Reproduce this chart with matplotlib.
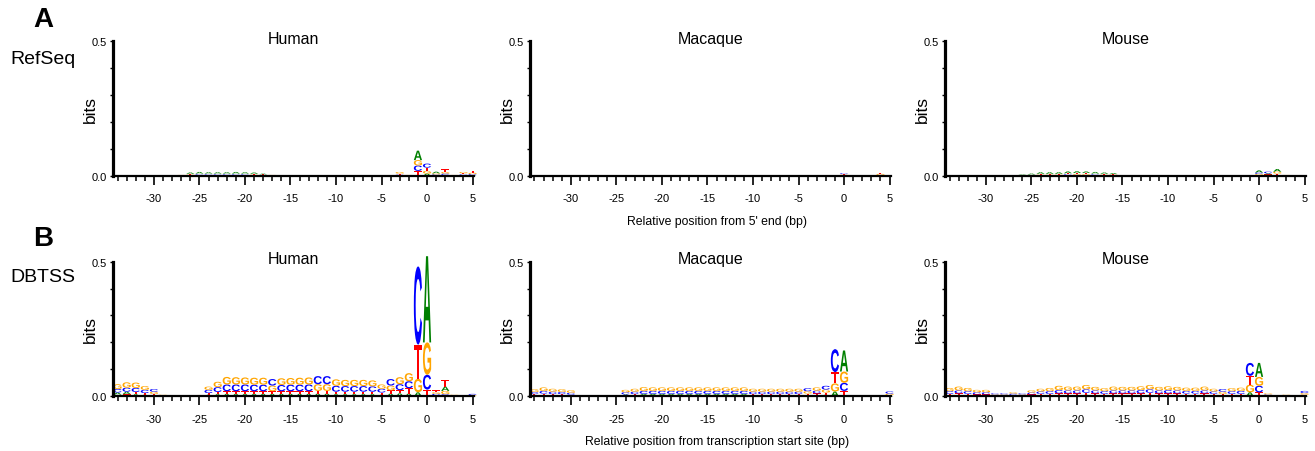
import matplotlib
matplotlib.use('Agg')
import matplotlib.pyplot as plt
from matplotlib.textpath import TextPath
from matplotlib.patches import PathPatch
from matplotlib.font_manager import FontProperties
from matplotlib.transforms import Affine2D

plt.rcParams['font.family'] = ['Liberation Sans', 'DejaVu Sans']
plt.rcParams['axes.unicode_minus'] = False

positions = list(range(-34, 6))
letter_colors = {'A': '#008000', 'C': '#0000ff', 'G': '#ffa500', 'T': '#ff0000'}
species = ['Human', 'Macaque', 'Mouse']
rows = ['RefSeq', 'DBTSS']
panel_tags = ['A', 'B']
xlabels = ["Relative position from 5' end (bp)",
           "Relative position from transcription start site (bp)"]

# information content (bits) per letter, positions -34 .. 5
# ---- RefSeq ----
human_ref_A = [0, 0, 0, 0, 0, 0, 0, .001, .005, .006, .005, .005, .005, .006, .005, .005, .003, .001, 0, 0,
               0, 0, 0, 0, 0, 0, 0, 0, 0, 0, 0, .001, .001, .035, .008, .006, .003, .001, .002, .002]
human_ref_C = [0, 0, 0, 0, 0, 0, 0, .001, .002, .003, .003, .003, .003, .003, .003, .002, .002, .001, 0, 0,
               0, 0, 0, 0, 0, 0, 0, 0, 0, 0, 0, .003, .001, .020, .015, .003, .005, .001, .003, .004]
human_ref_G = [0, 0, 0, 0, 0, 0, 0, .001, .002, .002, .002, .002, .002, .002, .002, .002, .001, .001, 0, 0,
               0, 0, 0, 0, 0, 0, 0, 0, 0, 0, 0, .006, .001, .020, .010, .004, .006, .001, .005, .005]
human_ref_T = [0, 0, 0, 0, 0, 0, 0, .001, .003, .003, .003, .003, .003, .003, .003, .003, .002, .001, 0, 0,
               0, 0, 0, 0, .002, 0, 0, 0, 0, 0, 0, .004, .001, .018, .012, .002, .010, .001, .004, .006]

macaque_ref_A = [0, 0, 0, 0, 0, 0, 0, 0, 0, 0, 0, 0, 0, 0, 0, 0, 0, 0, 0, 0,
                 0, 0, 0, 0, 0, 0, 0, 0, 0, 0, 0, 0, 0, 0, .002, 0, 0, 0, .001, 0]
macaque_ref_C = [0, 0, 0, 0, 0, 0, 0, 0, 0, 0, 0, 0, 0, 0, 0, 0, 0, 0, 0, 0,
                 0, 0, 0, 0, 0, 0, 0, 0, 0, 0, 0, 0, 0, 0, .003, 0, 0, 0, .002, 0]
macaque_ref_G = [0, 0, 0, 0, 0, 0, 0, 0, 0, 0, 0, 0, 0, 0, 0, 0, 0, 0, 0, 0,
                 0, 0, 0, 0, 0, 0, 0, 0, 0, 0, 0, 0, 0, 0, .002, 0, 0, 0, .004, 0]
macaque_ref_T = [0, 0, 0, 0, 0, 0, 0, 0, 0, 0, 0, 0, 0, 0, 0, 0, 0, 0, 0, 0,
                 0, 0, 0, 0, 0, 0, 0, 0, 0, 0, 0, 0, 0, 0, .002, 0, 0, 0, .004, 0]

mouse_ref_A = [0, 0, 0, 0, 0, 0, 0, 0, .002, .004, .006, .006, .006, .007, .007, .006, .006, .005, .004, .001,
               0, 0, 0, 0, 0, 0, 0, 0, 0, 0, 0, 0, 0, 0, .008, .004, .010, .001, 0, 0]
mouse_ref_C = [0, 0, 0, 0, 0, 0, 0, 0, .001, .001, .002, .002, .002, .003, .003, .003, .003, .002, .002, .0005,
               0, 0, 0, 0, 0, 0, 0, 0, 0, 0, 0, 0, 0, 0, .005, .006, .003, .001, 0, 0]
mouse_ref_G = [0, 0, 0, 0, 0, 0, 0, 0, .001, .001, .002, .002, .002, .002, .003, .003, .002, .002, .002, .0005,
               0, 0, 0, 0, 0, 0, 0, 0, 0, 0, 0, 0, 0, 0, .004, .002, .007, .001, 0, 0]
mouse_ref_T = [0, 0, 0, 0, 0, 0, 0, 0, .001, .002, .003, .003, .003, .004, .004, .004, .003, .003, .002, .001,
               0, 0, 0, 0, 0, 0, 0, 0, 0, 0, 0, 0, 0, 0, .003, .003, .005, .001, 0, 0]

# ---- DBTSS ----
human_tss_A = [.008, .009, .008, .006, .004, .001, .001, .0005, .001, .001, .006, .008, .009, .009, .009, .009, .009, .009, .009, .009,
               .009, .009, .010, .010, .008, .008, .008, .008, .008, .006, .010, .011, .010, .015, .320, .004, .016, .001, .0005, .001]
human_tss_C = [.013, .015, .015, .012, .010, .002, .001, .0005, .001, .001, .012, .018, .025, .025, .025, .024, .024, .024, .023, .024,
               .024, .025, .030, .030, .022, .021, .021, .021, .020, .014, .024, .022, .026, .290, .055, .005, .008, .002, .001, .004]
human_tss_G = [.018, .020, .020, .014, .008, .002, .001, .0005, .001, .002, .012, .020, .028, .027, .026, .026, .026, .021, .025, .025,
               .026, .026, .025, .025, .024, .023, .023, .023, .022, .016, .018, .026, .030, .050, .120, .006, .012, .002, .001, .003]
human_tss_T = [.006, .008, .008, .006, .005, .001, .001, .0005, .001, .001, .006, .008, .010, .010, .010, .010, .010, .010, .010, .010,
               .010, .010, .010, .010, .009, .009, .009, .009, .009, .008, .012, .012, .020, .127, .025, .007, .024, .001, .0005, .001]

macaque_tss_A = [.004, .005, .004, .004, .003, .0005, .0005, .0005, .0005, .0005, .004, .004, .005, .005, .005, .005, .005, .005, .005, .005,
                 .005, .005, .005, .005, .004, .004, .004, .004, .004, .004, .005, .005, .006, .018, .078, .001, .0005, .0005, .001, .002]
macaque_tss_C = [.008, .010, .009, .008, .007, .0005, .0005, .0005, .0005, .0005, .008, .009, .011, .011, .011, .011, .011, .011, .011, .011,
                 .011, .011, .011, .011, .009, .009, .009, .009, .009, .009, .011, .010, .014, .085, .030, .001, .0005, .0005, .001, .008]
macaque_tss_G = [.010, .013, .011, .010, .009, .0005, .0005, .0005, .0005, .0005, .009, .011, .014, .013, .013, .013, .013, .013, .013, .013,
                 .013, .013, .013, .013, .011, .011, .011, .011, .011, .011, .009, .012, .011, .030, .042, .001, .0005, .0005, .001, .006]
macaque_tss_T = [.004, .005, .004, .004, .003, .0005, .0005, .0005, .0005, .0005, .003, .004, .004, .004, .004, .004, .004, .004, .004, .004,
                 .004, .004, .004, .004, .004, .004, .004, .004, .004, .004, .005, .006, .008, .042, .020, .001, .0005, .0005, .001, .002]

mouse_tss_A = [.004, .005, .004, .003, .003, .002, .002, .002, .002, .003, .004, .004, .005, .005, .005, .006, .005, .004, .005, .005,
               .005, .005, .006, .005, .005, .005, .005, .005, .005, .004, .004, .004, .004, .015, .052, .002, .0005, .001, .0005, .002]
mouse_tss_C = [.010, .011, .010, .008, .008, .004, .004, .005, .004, .007, .009, .010, .012, .011, .011, .013, .011, .010, .011, .011,
               .011, .012, .013, .011, .012, .011, .010, .010, .011, .009, .010, .010, .011, .048, .024, .003, .0005, .002, .0005, .008]
mouse_tss_G = [.012, .014, .012, .009, .009, .003, .003, .005, .003, .008, .010, .012, .016, .014, .014, .016, .013, .011, .014, .013,
               .013, .014, .016, .013, .014, .013, .012, .012, .014, .010, .008, .011, .012, .028, .033, .004, .0005, .002, .0005, .006]
mouse_tss_T = [.005, .006, .005, .004, .004, .002, .002, .003, .002, .004, .005, .005, .006, .006, .006, .007, .006, .005, .006, .006,
               .006, .006, .007, .006, .006, .006, .005, .005, .006, .005, .005, .005, .005, .033, .015, .002, .0005, .001, .0005, .004]

logos = [
    [(human_ref_A, human_ref_C, human_ref_G, human_ref_T),
     (macaque_ref_A, macaque_ref_C, macaque_ref_G, macaque_ref_T),
     (mouse_ref_A, mouse_ref_C, mouse_ref_G, mouse_ref_T)],
    [(human_tss_A, human_tss_C, human_tss_G, human_tss_T),
     (macaque_tss_A, macaque_tss_C, macaque_tss_G, macaque_tss_T),
     (mouse_tss_A, mouse_tss_C, mouse_tss_G, mouse_tss_T)],
]

letter_font = FontProperties(family='Liberation Sans', weight='bold')


def draw_letter(ax, ch, x, y, w, h):
    tp = TextPath((0, 0), ch, size=1, prop=letter_font)
    bb = tp.get_extents()
    tr = Affine2D().translate(-bb.x0, -bb.y0).scale(w / bb.width, h / bb.height).translate(x - w / 2, y)
    ax.add_patch(PathPatch(tr.transform_path(tp), facecolor=letter_colors[ch],
                           edgecolor='none', clip_on=False))


def draw_logo(ax, cols):
    for i, p in enumerate(positions):
        stack = sorted(zip('ACGT', [c[i] for c in cols]), key=lambda t: t[1])
        y = 0.0
        for ch, h in stack:
            if h > 0:
                draw_letter(ax, ch, p, y, 0.9, h)
                y += h


fig = plt.figure(figsize=(13.15, 4.52), dpi=100)
lefts = [0.0859, 0.403, 0.7186]
bottoms = [0.609, 0.121]
for r in range(2):
    for s in range(3):
        ax = fig.add_axes([lefts[s], bottoms[r], 0.2745, 0.298])
        draw_logo(ax, logos[r][s])
        ax.set_xlim(-34.5, 5.15)
        ax.set_ylim(0, 0.5)
        ax.spines['top'].set_visible(False)
        ax.spines['right'].set_visible(False)
        ax.spines['left'].set_linewidth(2.3)
        ax.spines['bottom'].set_linewidth(1.6)
        ax.set_xticks(range(-30, 6, 5))
        ax.set_xticks(positions, minor=True)
        ax.set_yticks([0, 0.1, 0.2, 0.3, 0.4, 0.5])
        ax.set_yticklabels(['0.0', '', '', '', '', '0.5'])
        ax.tick_params(axis='x', which='major', length=6.5, width=1.2, pad=6, labelsize=8)
        ax.tick_params(axis='x', which='minor', length=3.5, width=1.1)
        ax.tick_params(axis='y', length=2.5, width=1, pad=2, labelsize=8)
        ax.set_ylabel('bits', fontsize=12.5)
        ax.yaxis.set_label_coords(-0.042, 0.5)
        ax.text(0.5, 1.02, species[s], transform=ax.transAxes, ha='center', va='center', fontsize=11.5)

    fig.text(0.5455, [0.509, 0.022][r], xlabels[r], ha='center', va='center', fontsize=8.8)
    fig.text(0.0327, [0.956, 0.471][r], panel_tags[r], ha='center', va='center', fontsize=20, fontweight='bold')
    fig.text(0.0076, [0.869, 0.387][r], rows[r], ha='left', va='center', fontsize=14)

fig.savefig('out.png', dpi=100)
